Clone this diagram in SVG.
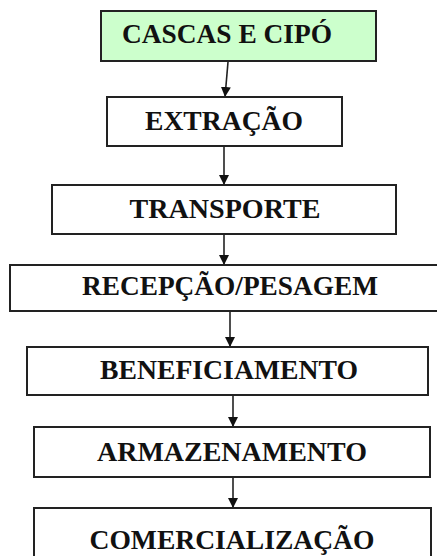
<svg xmlns="http://www.w3.org/2000/svg" width="437" height="556" viewBox="0 0 437 556">
<defs>
<style>
.box{fill:#ffffff;stroke:#222;stroke-width:2}
.start{fill:#ccffcc}
.lbl{font-family:"Liberation Serif","Times New Roman",serif;font-weight:bold;font-size:27px;fill:#111;text-anchor:middle}
.conn{stroke:#222;stroke-width:1.6;fill:none;marker-end:url(#ah)}
</style>
<marker id="ah" markerUnits="userSpaceOnUse" markerWidth="12" markerHeight="12" refX="10" refY="5" orient="auto">
<path d="M0,0 L10,5 L0,10 Z" fill="#111"/>
</marker>
</defs>
<rect width="437" height="556" fill="#ffffff"/>
<g id="connectors">
<line class="conn" x1="228" y1="62" x2="225" y2="97"/>
<line class="conn" x1="224" y1="147" x2="224" y2="185"/>
<line class="conn" x1="224" y1="235" x2="224" y2="265"/>
<line class="conn" x1="230" y1="312" x2="230" y2="347"/>
<line class="conn" x1="233" y1="396" x2="233" y2="427"/>
<line class="conn" x1="233" y1="478" x2="233" y2="508"/>
</g>
<g id="cascas">
<rect class="box start" x="101" y="11" width="275" height="50"/>
<text class="lbl" x="227" y="43" textLength="210" lengthAdjust="spacingAndGlyphs">CASCAS E CIPÓ</text>
</g>
<g id="extracao">
<rect class="box" x="107" y="97" width="235" height="49"/>
<text class="lbl" x="224" y="130" textLength="158" lengthAdjust="spacingAndGlyphs">EXTRAÇÃO</text>
</g>
<g id="transporte">
<rect class="box" x="52" y="185" width="344" height="49"/>
<text class="lbl" x="225" y="218" textLength="191" lengthAdjust="spacingAndGlyphs">TRANSPORTE</text>
</g>
<g id="recepcao">
<rect class="box" x="10" y="265" width="430" height="46"/>
<text class="lbl" x="230" y="295" textLength="296" lengthAdjust="spacingAndGlyphs">RECEPÇÃO/PESAGEM</text>
</g>
<g id="beneficiamento">
<rect class="box" x="27" y="347" width="401" height="48"/>
<text class="lbl" x="229" y="379" textLength="258" lengthAdjust="spacingAndGlyphs">BENEFICIAMENTO</text>
</g>
<g id="armazenamento">
<rect class="box" x="34" y="427" width="396" height="50"/>
<text class="lbl" x="232" y="461" textLength="270" lengthAdjust="spacingAndGlyphs">ARMAZENAMENTO</text>
</g>
<g id="comercializacao">
<rect class="box" x="34" y="508" width="397" height="60"/>
<text class="lbl" x="232" y="549" textLength="285" lengthAdjust="spacingAndGlyphs">COMERCIALIZAÇÃO</text>
</g>
</svg>
